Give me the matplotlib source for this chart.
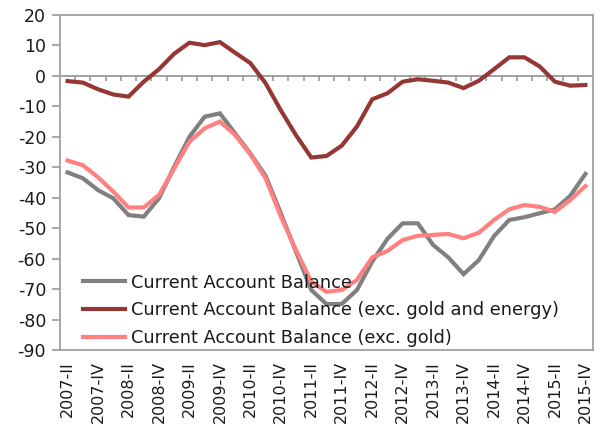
import matplotlib
matplotlib.use("Agg")
import matplotlib.pyplot as plt
import numpy as np

quarters = ["2007-II", "2007-III", "2007-IV",
            "2008-I", "2008-II", "2008-III", "2008-IV",
            "2009-I", "2009-II", "2009-III", "2009-IV",
            "2010-I", "2010-II", "2010-III", "2010-IV",
            "2011-I", "2011-II", "2011-III", "2011-IV",
            "2012-I", "2012-II", "2012-III", "2012-IV",
            "2013-I", "2013-II", "2013-III", "2013-IV",
            "2014-I", "2014-II", "2014-III", "2014-IV",
            "2015-I", "2015-II", "2015-III", "2015-IV"]

cab = [-31.7, -33.6, -37.5, -40.2, -45.7, -46.2, -40.2, -29.8, -20.0, -13.4,
       -12.3, -18.9, -25.5, -32.8, -45.1, -57.8, -70.3, -74.9, -74.9, -70.3,
       -61.0, -53.5, -48.4, -48.4, -55.5, -59.6, -65.1, -60.5, -52.6, -47.3,
       -46.4, -45.1, -43.8, -39.4, -32.2]

cab_ex_gold_energy = [-1.7, -2.2, -4.4, -6.1, -6.8, -1.9, 2.2, 7.3, 10.9, 10.1,
                      11.1, 7.6, 4.2, -2.4, -11.3, -19.5, -26.8, -26.3, -22.9, -16.6,
                      -7.7, -5.7, -1.9, -1.1, -1.6, -2.2, -4.0, -1.6, 2.2, 6.1,
                      6.1, 3.1, -1.9, -3.2, -3.0]

cab_ex_gold = [-27.8, -29.3, -33.3, -38.0, -43.2, -43.2, -39.1, -30.4, -21.6, -17.2,
               -15.0, -19.4, -25.8, -33.6, -46.2, -57.2, -67.6, -70.9, -70.3, -67.0,
               -59.6, -57.5, -53.9, -52.5, -52.2, -51.9, -53.3, -51.5, -47.3, -43.8,
               -42.4, -43.0, -44.6, -40.8, -36.2]

series_labels = ["Current Account Balance",
                 "Current Account Balance (exc. gold and energy)",
                 "Current Account Balance (exc. gold)"]
colors = ["#808080", "#953735", "#FF8080"]
yticks = list(range(-90, 21, 10))

plt.rcParams['font.family'] = ['DejaVu Sans']
fig = plt.figure(figsize=(6.01, 4.25), dpi=100)
ax = fig.add_axes([60/601, 75/425, 533/601, 335/425])

x = np.arange(len(quarters))
for vals, lab, c in zip([cab, cab_ex_gold_energy, cab_ex_gold], series_labels, colors):
    ax.plot(x, vals, color=c, lw=3, label=lab, solid_joinstyle='miter', zorder=3)

ax.set_xlim(-0.5, len(quarters) - 0.5)
ax.set_ylim(-90, 20)
ax.set_yticks(yticks)
ax.set_yticklabels([str(v) for v in yticks], fontsize=12.5, color='#1a1a1a')
ax.set_xticks(x[::2])
ax.set_xticklabels(quarters[::2], rotation=90, fontsize=11.5, color='#1a1a1a')
ax.tick_params(axis='x', length=0, pad=8)
ax.tick_params(axis='y', length=6, width=1.2, color='#999999', pad=4)

frame_c = '#A0A0A0'
for s in ['left', 'bottom', 'top', 'right']:
    ax.spines[s].set_color(frame_c)
    ax.spines[s].set_linewidth(1.3)

# horizontal category axis at zero with tick marks between categories
ax.axhline(0, color='#999999', lw=1.3, zorder=2)
bounds = np.arange(len(quarters) + 1) - 0.5
ax.vlines(bounds[1:-1], -1.6, 0, color='#999999', lw=1.2, zorder=2)

leg = ax.legend(loc='lower left', bbox_to_anchor=(0.026, -0.018), frameon=False,
                fontsize=12.8, handlelength=2.4, handletextpad=0.3,
                labelspacing=0.55, borderaxespad=0.1)
for t in leg.get_texts():
    t.set_color('#1a1a1a')

fig.savefig("out.png", dpi=100)
